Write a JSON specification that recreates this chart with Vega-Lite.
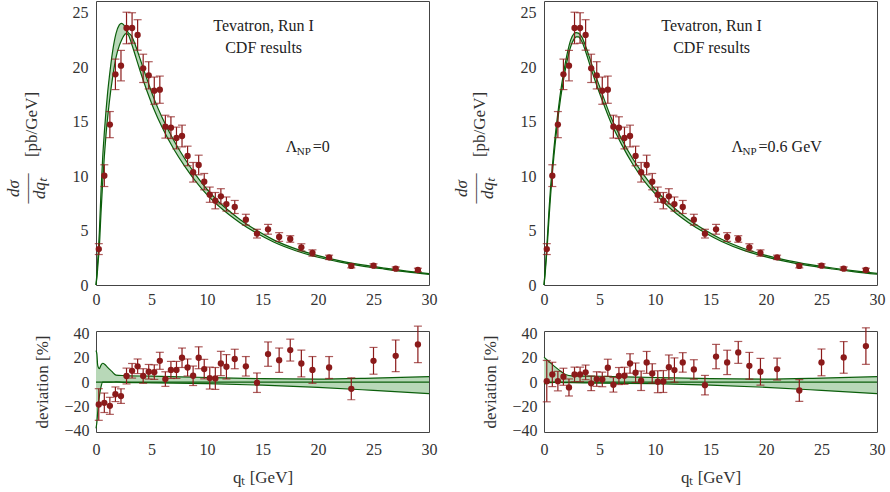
{
"$schema": "https://vega.github.io/schema/vega-lite/v6.json",
"padding": {"left": 3, "top": -7, "right": 5, "bottom": 2},
"background": "white",
"config": {
  "font": "Liberation Serif",
  "view": {"stroke": "#444", "strokeWidth": 1},
  "axis": {"grid": false, "domain": false, "labelFont": "Liberation Serif", "labelFontSize": 16, "labelColor": "#333", "titleFont": "Liberation Serif", "titleFontSize": 17, "titleFontWeight": "normal", "titleColor": "#333", "tickColor": "#444", "tickWidth": 1}
},
"datasets": {
  "pts": [
    {"x": 0.25, "v": 3.3, "e": 0.5, "dl": -18.4, "el": 13, "dr": 0.8, "er": 17},
    {"x": 0.75, "v": 10.05, "e": 1.0, "dl": -17, "el": 8, "dr": 6.3, "er": 10},
    {"x": 1.25, "v": 14.74, "e": 1.2, "dl": -19.5, "el": 7, "dr": 0.8, "er": 8},
    {"x": 1.75, "v": 19.36, "e": 1.4, "dl": -10, "el": 6, "dr": 4.4, "er": 7},
    {"x": 2.25, "v": 20.16, "e": 1.4, "dl": -11.5, "el": 6, "dr": -4.4, "er": 7},
    {"x": 2.75, "v": 23.62, "e": 1.45, "dl": 5, "el": 6.5, "dr": 6.3, "er": 6},
    {"x": 3.25, "v": 23.62, "e": 1.4, "dl": 9.3, "el": 6, "dr": 6.3, "er": 6},
    {"x": 3.75, "v": 22.98, "e": 1.4, "dl": 13, "el": 6, "dr": 8, "er": 6},
    {"x": 4.25, "v": 19.91, "e": 1.3, "dl": 5, "el": 6, "dr": -1, "er": 6},
    {"x": 4.75, "v": 19.27, "e": 1.25, "dl": 8.5, "el": 6, "dr": 2.5, "er": 6},
    {"x": 5.25, "v": 17.86, "e": 1.25, "dl": 8.2, "el": 6, "dr": 2.2, "er": 6},
    {"x": 5.75, "v": 17.95, "e": 1.25, "dl": 17.5, "el": 7, "dr": 11.8, "er": 7},
    {"x": 6.25, "v": 14.55, "e": 1.05, "dl": 2.5, "el": 6, "dr": -2.2, "er": 6},
    {"x": 6.75, "v": 14.46, "e": 1.0, "dl": 10, "el": 7, "dr": 5, "er": 7},
    {"x": 7.25, "v": 13.51, "e": 1.0, "dl": 10, "el": 7, "dr": 5.2, "er": 7},
    {"x": 7.75, "v": 13.69, "e": 1.0, "dl": 20, "el": 8, "dr": 15.3, "er": 8},
    {"x": 8.25, "v": 11.86, "e": 0.9, "dl": 12, "el": 7, "dr": 7.7, "er": 8},
    {"x": 8.75, "v": 10.36, "e": 0.9, "dl": 5.2, "el": 8, "dr": 1.1, "er": 8},
    {"x": 9.25, "v": 11.03, "e": 0.9, "dl": 20, "el": 9, "dr": 16.2, "er": 9},
    {"x": 9.75, "v": 9.5, "e": 0.75, "dl": 10.7, "el": 8, "dr": 7.1, "er": 8},
    {"x": 10.25, "v": 8.3, "e": 0.7, "dl": 3.3, "el": 9, "dr": 0.3, "er": 9},
    {"x": 10.75, "v": 7.75, "e": 0.75, "dl": 3, "el": 9, "dr": 0.5, "er": 9},
    {"x": 11.25, "v": 8.15, "e": 0.7, "dl": 15.3, "el": 10, "dr": 12.3, "er": 10},
    {"x": 11.75, "v": 7.44, "e": 0.65, "dl": 12.6, "el": 10, "dr": 9.9, "er": 10},
    {"x": 12.5, "v": 7.17, "e": 0.6, "dl": 19, "el": 8, "dr": 16.2, "er": 8},
    {"x": 13.5, "v": 6.0, "e": 0.5, "dl": 13, "el": 8, "dr": 10.4, "er": 8},
    {"x": 14.5, "v": 4.72, "e": 0.4, "dl": -0.5, "el": 8, "dr": -2.5, "er": 8},
    {"x": 15.5, "v": 5.12, "e": 0.45, "dl": 23, "el": 10, "dr": 21, "er": 10},
    {"x": 16.5, "v": 4.41, "e": 0.4, "dl": 18, "el": 10, "dr": 16.2, "er": 10},
    {"x": 17.5, "v": 4.23, "e": 0.3, "dl": 26.3, "el": 9, "dr": 24.4, "er": 9},
    {"x": 18.5, "v": 3.46, "e": 0.33, "dl": 15.3, "el": 11, "dr": 13.4, "er": 11},
    {"x": 19.5, "v": 2.94, "e": 0.29, "dl": 10, "el": 11, "dr": 8.5, "er": 11},
    {"x": 21, "v": 2.54, "e": 0.2, "dl": 12, "el": 9, "dr": 10.7, "er": 9},
    {"x": 23, "v": 1.75, "e": 0.17, "dl": -5.5, "el": 9, "dr": -6.9, "er": 9},
    {"x": 25, "v": 1.78, "e": 0.17, "dl": 17.5, "el": 11, "dr": 16.2, "er": 11},
    {"x": 27, "v": 1.5, "e": 0.16, "dl": 21.6, "el": 13, "dr": 20.3, "er": 13},
    {"x": 29, "v": 1.38, "e": 0.16, "dl": 31, "el": 15, "dr": 29.6, "er": 15}
  ],
  "bandTL": [
    {"x": 0, "lo": 0, "hi": 0}, {"x": 0.1, "lo": 0.9, "hi": 1.3}, {"x": 0.2, "lo": 2.2, "hi": 3.0},
    {"x": 0.3, "lo": 3.5, "hi": 4.8}, {"x": 0.45, "lo": 6.6, "hi": 8.6}, {"x": 0.6, "lo": 9.4, "hi": 11.7},
    {"x": 0.75, "lo": 11.8, "hi": 14.0}, {"x": 0.9, "lo": 13.8, "hi": 16.0}, {"x": 1.05, "lo": 15.4, "hi": 17.7},
    {"x": 1.2, "lo": 16.8, "hi": 19.1}, {"x": 1.5, "lo": 19.1, "hi": 21.5}, {"x": 1.8, "lo": 20.9, "hi": 23.1},
    {"x": 2.1, "lo": 22.0, "hi": 23.9}, {"x": 2.3, "lo": 22.5, "hi": 24.05}, {"x": 2.5, "lo": 22.9, "hi": 23.9},
    {"x": 2.7, "lo": 23.1, "hi": 23.55}, {"x": 2.9, "lo": 23.0, "hi": 23.2}, {"x": 3.2, "lo": 22.2, "hi": 22.9},
    {"x": 3.6, "lo": 20.9, "hi": 21.9}, {"x": 4.0, "lo": 19.6, "hi": 20.7}, {"x": 4.6, "lo": 17.8, "hi": 18.9},
    {"x": 5.2, "lo": 16.2, "hi": 17.2}, {"x": 6.0, "lo": 14.4, "hi": 15.3}, {"x": 7.0, "lo": 12.5, "hi": 13.3},
    {"x": 8.0, "lo": 10.9, "hi": 11.6}, {"x": 9.0, "lo": 9.5, "hi": 10.1}, {"x": 10.0, "lo": 8.3, "hi": 8.8},
    {"x": 11.0, "lo": 7.3, "hi": 7.7}, {"x": 12.0, "lo": 6.45, "hi": 6.8}, {"x": 13.0, "lo": 5.7, "hi": 6.0},
    {"x": 14.5, "lo": 4.75, "hi": 5.0}, {"x": 16.0, "lo": 3.95, "hi": 4.15}, {"x": 18.0, "lo": 3.15, "hi": 3.32},
    {"x": 20.0, "lo": 2.55, "hi": 2.7}, {"x": 22.0, "lo": 2.1, "hi": 2.22}, {"x": 24.0, "lo": 1.74, "hi": 1.85},
    {"x": 26.0, "lo": 1.46, "hi": 1.55}, {"x": 28.0, "lo": 1.2, "hi": 1.28}, {"x": 30.0, "lo": 0.98, "hi": 1.05}
  ],
  "bandTR": [
    {"x": 0, "lo": 0, "hi": 0}, {"x": 0.1, "lo": 1.0, "hi": 1.3}, {"x": 0.2, "lo": 2.3, "hi": 2.8},
    {"x": 0.3, "lo": 3.7, "hi": 4.3}, {"x": 0.45, "lo": 6.1, "hi": 6.9}, {"x": 0.6, "lo": 8.3, "hi": 9.1},
    {"x": 0.75, "lo": 10.2, "hi": 10.9}, {"x": 0.9, "lo": 11.9, "hi": 12.6}, {"x": 1.05, "lo": 13.4, "hi": 14.1},
    {"x": 1.2, "lo": 14.8, "hi": 15.4}, {"x": 1.5, "lo": 17.2, "hi": 17.8}, {"x": 1.8, "lo": 19.1, "hi": 19.7},
    {"x": 2.1, "lo": 20.7, "hi": 21.3}, {"x": 2.4, "lo": 21.9, "hi": 22.5}, {"x": 2.7, "lo": 22.6, "hi": 23.1},
    {"x": 2.9, "lo": 22.8, "hi": 23.2}, {"x": 3.1, "lo": 22.8, "hi": 23.15}, {"x": 3.4, "lo": 22.4, "hi": 22.8},
    {"x": 3.8, "lo": 21.3, "hi": 21.8}, {"x": 4.2, "lo": 20.0, "hi": 20.6}, {"x": 4.7, "lo": 18.5, "hi": 19.1},
    {"x": 5.2, "lo": 17.1, "hi": 17.7}, {"x": 6.0, "lo": 15.0, "hi": 15.5}, {"x": 7.0, "lo": 12.9, "hi": 13.4},
    {"x": 8.0, "lo": 11.1, "hi": 11.6}, {"x": 9.0, "lo": 9.6, "hi": 10.1}, {"x": 10.0, "lo": 8.4, "hi": 8.8},
    {"x": 11.0, "lo": 7.4, "hi": 7.75}, {"x": 12.0, "lo": 6.5, "hi": 6.85}, {"x": 13.0, "lo": 5.75, "hi": 6.05},
    {"x": 14.5, "lo": 4.8, "hi": 5.05}, {"x": 16.0, "lo": 4.0, "hi": 4.2}, {"x": 18.0, "lo": 3.18, "hi": 3.35},
    {"x": 20.0, "lo": 2.58, "hi": 2.72}, {"x": 22.0, "lo": 2.12, "hi": 2.24}, {"x": 24.0, "lo": 1.76, "hi": 1.87},
    {"x": 26.0, "lo": 1.47, "hi": 1.56}, {"x": 28.0, "lo": 1.21, "hi": 1.29}, {"x": 30.0, "lo": 0.99, "hi": 1.06}
  ],
  "bandBL": [
    {"x": 0, "lo": -38, "hi": 26}, {"x": 0.08, "lo": -33, "hi": 23}, {"x": 0.15, "lo": -25, "hi": 14},
    {"x": 0.3, "lo": -12, "hi": 11}, {"x": 0.45, "lo": -4, "hi": 14}, {"x": 0.6, "lo": 0, "hi": 15.5},
    {"x": 0.8, "lo": 0, "hi": 14.5}, {"x": 1.0, "lo": 0, "hi": 12.5}, {"x": 1.4, "lo": 0, "hi": 9},
    {"x": 1.8, "lo": 0.2, "hi": 5.8}, {"x": 2.5, "lo": -0.2, "hi": 5.4}, {"x": 5, "lo": -0.6, "hi": 4.9},
    {"x": 10, "lo": -1.3, "hi": 3.8}, {"x": 15, "lo": -2.5, "hi": 2.8}, {"x": 20, "lo": -4.3, "hi": 2.5},
    {"x": 25, "lo": -6.8, "hi": 3.3}, {"x": 30, "lo": -9.5, "hi": 4.5}
  ],
  "bandBR": [
    {"x": 0, "lo": -1.5, "hi": 20.5}, {"x": 0.5, "lo": -0.5, "hi": 16.5}, {"x": 1.0, "lo": -0.3, "hi": 12.5},
    {"x": 1.5, "lo": -0.3, "hi": 9}, {"x": 2.0, "lo": -0.4, "hi": 6}, {"x": 2.5, "lo": -0.4, "hi": 5.2},
    {"x": 5, "lo": -0.8, "hi": 4.8}, {"x": 10, "lo": -1.3, "hi": 3.8}, {"x": 15, "lo": -2.5, "hi": 2.8},
    {"x": 20, "lo": -4.3, "hi": 2.5}, {"x": 25, "lo": -6.8, "hi": 3.3}, {"x": 30, "lo": -9.5, "hi": 4.5}
  ]
},
"columns": 2,
"spacing": {"row": 46, "column": 115},
"bounds": "flush",
"concat": [
  {
    "width": 333, "height": 284,
    "resolve": {"axis": {"x": "independent", "y": "independent"}},
    "layer": [
      {"data": {"name": "bandTL"}, "mark": {"type": "area", "fill": "#b8d8b8", "interpolate": "monotone"},
       "encoding": {
         "x": {"field": "x", "type": "quantitative", "scale": {"domain": [0, 30], "nice": false, "zero": false},
               "axis": {"orient": "top", "values": [0,1,2,3,4,5,6,7,8,9,10,11,12,13,14,15,16,17,18,19,20,21,22,23,24,25,26,27,28,29,30], "labels": false, "title": null, "tickSize": 0, "encode": {"ticks": {"update": {"y2": {"signal": "datum.value % 5 === 0 ? 6 : 3"}}}}}},
         "y": {"field": "lo", "type": "quantitative", "scale": {"domain": [0, 26.1], "nice": false},
               "axis": {"orient": "right", "values": [0,1,2,3,4,5,6,7,8,9,10,11,12,13,14,15,16,17,18,19,20,21,22,23,24,25,26], "labels": false, "title": null, "tickSize": 0, "encode": {"ticks": {"update": {"x2": {"signal": "datum.value % 5 === 0 ? -6 : -3"}}}}}},
         "y2": {"field": "hi"}}},
      {"data": {"name": "bandTL"}, "mark": {"type": "line", "color": "#0b5e0b", "strokeWidth": 1.2, "interpolate": "monotone"},
       "encoding": {"x": {"field": "x", "type": "quantitative", "scale": {"domain": [0, 30], "nice": false, "zero": false}, "axis": null},
                    "y": {"field": "lo", "type": "quantitative", "scale": {"domain": [0, 26.1], "nice": false}, "axis": null}}},
      {"data": {"name": "bandTL"}, "mark": {"type": "line", "color": "#0b5e0b", "strokeWidth": 1.2, "interpolate": "monotone"},
       "encoding": {"x": {"field": "x", "type": "quantitative", "scale": {"domain": [0, 30], "nice": false, "zero": false}, "axis": null},
                    "y": {"field": "hi", "type": "quantitative", "scale": {"domain": [0, 26.1], "nice": false},
                          "axis": {"orient": "left", "labels": false, "ticks": false, "domain": false, "title": "[pb/GeV]", "titlePadding": 56, "titleY": 123}}}},
      {"data": {"name": "pts"}, "mark": {"type": "errorbar", "color": "#8b1a1a", "thickness": 1.2, "ticks": {"size": 8, "thickness": 1.2, "color": "#8b1a1a"}},
       "encoding": {"x": {"field": "x", "type": "quantitative", "scale": {"domain": [0, 30], "nice": false, "zero": false}, "axis": null},
                    "y": {"field": "v", "type": "quantitative", "scale": {"domain": [0, 26.1], "nice": false}, "axis": null},
                    "yError": {"field": "e"}}},
      {"data": {"name": "pts"}, "mark": {"type": "point", "filled": true, "size": 40, "color": "#8b1a1a", "opacity": 1},
       "encoding": {
         "x": {"field": "x", "type": "quantitative", "scale": {"domain": [0, 30], "nice": false, "zero": false},
               "axis": {"orient": "bottom", "values": [0,1,2,3,4,5,6,7,8,9,10,11,12,13,14,15,16,17,18,19,20,21,22,23,24,25,26,27,28,29,30], "labelExpr": "datum.value % 5 === 0 ? datum.label : ''", "labelOverlap": false, "labelFlush": false, "labelPadding": 6, "tickSize": 0, "title": null, "encode": {"ticks": {"update": {"y2": {"signal": "datum.value % 5 === 0 ? -6 : -3"}}}}}},
         "y": {"field": "v", "type": "quantitative", "scale": {"domain": [0, 26.1], "nice": false},
               "axis": {"orient": "left", "values": [0,1,2,3,4,5,6,7,8,9,10,11,12,13,14,15,16,17,18,19,20,21,22,23,24,25,26], "labelExpr": "datum.value % 5 === 0 ? datum.label : ''", "labelOverlap": false, "labelPadding": 8, "tickSize": 0, "titlePadding": 24, "titleLineHeight": 13, "titleFontStyle": "italic", "titleY": 187,
                        "title": ["dσ", "——", "dqₜ"],
                        "encode": {"ticks": {"update": {"x2": {"signal": "datum.value % 5 === 0 ? 6 : 3"}}}}}}}},
      {"data": {"values": [{}]}, "mark": {"type": "text", "font": "Liberation Serif", "fontSize": 16, "color": "#222", "align": "center", "baseline": "top", "lineHeight": 22},
       "encoding": {"x": {"datum": 15.1, "type": "quantitative", "scale": {"domain": [0, 30], "nice": false, "zero": false}, "axis": null},
                    "y": {"datum": 24.5, "type": "quantitative", "scale": {"domain": [0, 26.1], "nice": false}, "axis": null},
                    "text": {"value": ["Tevatron, Run I", "CDF results"]}}},
      {"data": {"values": [{}]}, "mark": {"type": "text", "font": "Liberation Serif", "fontSize": 16, "color": "#222", "align": "left", "baseline": "middle"},
       "encoding": {"x": {"datum": 17.1, "type": "quantitative", "scale": {"domain": [0, 30], "nice": false, "zero": false}, "axis": null},
                    "y": {"datum": 12.7, "type": "quantitative", "scale": {"domain": [0, 26.1], "nice": false}, "axis": null},
                    "text": {"value": "Λ"}}},
      {"data": {"values": [{}]}, "mark": {"type": "text", "font": "Liberation Serif", "fontSize": 11, "color": "#222", "align": "left", "baseline": "middle", "dx": 11, "dy": 5},
       "encoding": {"x": {"datum": 17.1, "type": "quantitative", "scale": {"domain": [0, 30], "nice": false, "zero": false}, "axis": null},
                    "y": {"datum": 12.7, "type": "quantitative", "scale": {"domain": [0, 26.1], "nice": false}, "axis": null},
                    "text": {"value": "NP"}}},
      {"data": {"values": [{}]}, "mark": {"type": "text", "font": "Liberation Serif", "fontSize": 16, "color": "#222", "align": "left", "baseline": "middle", "dx": 27},
       "encoding": {"x": {"datum": 17.1, "type": "quantitative", "scale": {"domain": [0, 30], "nice": false, "zero": false}, "axis": null},
                    "y": {"datum": 12.7, "type": "quantitative", "scale": {"domain": [0, 26.1], "nice": false}, "axis": null},
                    "text": {"value": "=0"}}}
    ]
  },
  {
    "width": 333, "height": 284,
    "resolve": {"axis": {"x": "independent", "y": "independent"}},
    "layer": [
      {"data": {"name": "bandTR"}, "mark": {"type": "area", "fill": "#b8d8b8", "interpolate": "monotone"},
       "encoding": {
         "x": {"field": "x", "type": "quantitative", "scale": {"domain": [0, 30], "nice": false, "zero": false},
               "axis": {"orient": "top", "values": [0,1,2,3,4,5,6,7,8,9,10,11,12,13,14,15,16,17,18,19,20,21,22,23,24,25,26,27,28,29,30], "labels": false, "title": null, "tickSize": 0, "encode": {"ticks": {"update": {"y2": {"signal": "datum.value % 5 === 0 ? 6 : 3"}}}}}},
         "y": {"field": "lo", "type": "quantitative", "scale": {"domain": [0, 26.1], "nice": false},
               "axis": {"orient": "right", "values": [0,1,2,3,4,5,6,7,8,9,10,11,12,13,14,15,16,17,18,19,20,21,22,23,24,25,26], "labels": false, "title": null, "tickSize": 0, "encode": {"ticks": {"update": {"x2": {"signal": "datum.value % 5 === 0 ? -6 : -3"}}}}}},
         "y2": {"field": "hi"}}},
      {"data": {"name": "bandTR"}, "mark": {"type": "line", "color": "#0b5e0b", "strokeWidth": 1.2, "interpolate": "monotone"},
       "encoding": {"x": {"field": "x", "type": "quantitative", "scale": {"domain": [0, 30], "nice": false, "zero": false}, "axis": null},
                    "y": {"field": "lo", "type": "quantitative", "scale": {"domain": [0, 26.1], "nice": false}, "axis": null}}},
      {"data": {"name": "bandTR"}, "mark": {"type": "line", "color": "#0b5e0b", "strokeWidth": 1.2, "interpolate": "monotone"},
       "encoding": {"x": {"field": "x", "type": "quantitative", "scale": {"domain": [0, 30], "nice": false, "zero": false}, "axis": null},
                    "y": {"field": "hi", "type": "quantitative", "scale": {"domain": [0, 26.1], "nice": false},
                          "axis": {"orient": "left", "labels": false, "ticks": false, "domain": false, "title": "[pb/GeV]", "titlePadding": 56, "titleY": 123}}}},
      {"data": {"name": "pts"}, "mark": {"type": "errorbar", "color": "#8b1a1a", "thickness": 1.2, "ticks": {"size": 8, "thickness": 1.2, "color": "#8b1a1a"}},
       "encoding": {"x": {"field": "x", "type": "quantitative", "scale": {"domain": [0, 30], "nice": false, "zero": false}, "axis": null},
                    "y": {"field": "v", "type": "quantitative", "scale": {"domain": [0, 26.1], "nice": false}, "axis": null},
                    "yError": {"field": "e"}}},
      {"data": {"name": "pts"}, "mark": {"type": "point", "filled": true, "size": 40, "color": "#8b1a1a", "opacity": 1},
       "encoding": {
         "x": {"field": "x", "type": "quantitative", "scale": {"domain": [0, 30], "nice": false, "zero": false},
               "axis": {"orient": "bottom", "values": [0,1,2,3,4,5,6,7,8,9,10,11,12,13,14,15,16,17,18,19,20,21,22,23,24,25,26,27,28,29,30], "labelExpr": "datum.value % 5 === 0 ? datum.label : ''", "labelOverlap": false, "labelFlush": false, "labelPadding": 6, "tickSize": 0, "title": null, "encode": {"ticks": {"update": {"y2": {"signal": "datum.value % 5 === 0 ? -6 : -3"}}}}}},
         "y": {"field": "v", "type": "quantitative", "scale": {"domain": [0, 26.1], "nice": false},
               "axis": {"orient": "left", "values": [0,1,2,3,4,5,6,7,8,9,10,11,12,13,14,15,16,17,18,19,20,21,22,23,24,25,26], "labelExpr": "datum.value % 5 === 0 ? datum.label : ''", "labelOverlap": false, "labelPadding": 8, "tickSize": 0, "titlePadding": 24, "titleLineHeight": 13, "titleFontStyle": "italic", "titleY": 187,
                        "title": ["dσ", "——", "dqₜ"],
                        "encode": {"ticks": {"update": {"x2": {"signal": "datum.value % 5 === 0 ? 6 : 3"}}}}}}}},
      {"data": {"values": [{}]}, "mark": {"type": "text", "font": "Liberation Serif", "fontSize": 16, "color": "#222", "align": "center", "baseline": "top", "lineHeight": 22},
       "encoding": {"x": {"datum": 15.1, "type": "quantitative", "scale": {"domain": [0, 30], "nice": false, "zero": false}, "axis": null},
                    "y": {"datum": 24.5, "type": "quantitative", "scale": {"domain": [0, 26.1], "nice": false}, "axis": null},
                    "text": {"value": ["Tevatron, Run I", "CDF results"]}}},
      {"data": {"values": [{}]}, "mark": {"type": "text", "font": "Liberation Serif", "fontSize": 16, "color": "#222", "align": "left", "baseline": "middle"},
       "encoding": {"x": {"datum": 16.9, "type": "quantitative", "scale": {"domain": [0, 30], "nice": false, "zero": false}, "axis": null},
                    "y": {"datum": 12.7, "type": "quantitative", "scale": {"domain": [0, 26.1], "nice": false}, "axis": null},
                    "text": {"value": "Λ"}}},
      {"data": {"values": [{}]}, "mark": {"type": "text", "font": "Liberation Serif", "fontSize": 11, "color": "#222", "align": "left", "baseline": "middle", "dx": 11, "dy": 5},
       "encoding": {"x": {"datum": 16.9, "type": "quantitative", "scale": {"domain": [0, 30], "nice": false, "zero": false}, "axis": null},
                    "y": {"datum": 12.7, "type": "quantitative", "scale": {"domain": [0, 26.1], "nice": false}, "axis": null},
                    "text": {"value": "NP"}}},
      {"data": {"values": [{}]}, "mark": {"type": "text", "font": "Liberation Serif", "fontSize": 16, "color": "#222", "align": "left", "baseline": "middle", "dx": 27},
       "encoding": {"x": {"datum": 16.9, "type": "quantitative", "scale": {"domain": [0, 30], "nice": false, "zero": false}, "axis": null},
                    "y": {"datum": 12.7, "type": "quantitative", "scale": {"domain": [0, 26.1], "nice": false}, "axis": null},
                    "text": {"value": "=0.6 GeV"}}}
    ]
  },
  {
    "width": 333, "height": 101,
    "resolve": {"axis": {"x": "independent", "y": "independent"}},
    "layer": [
      {"data": {"name": "bandBL"}, "mark": {"type": "area", "fill": "#b8d8b8", "interpolate": "monotone"},
       "encoding": {
         "x": {"field": "x", "type": "quantitative", "scale": {"domain": [0, 30], "nice": false, "zero": false},
               "axis": {"orient": "top", "values": [0,1,2,3,4,5,6,7,8,9,10,11,12,13,14,15,16,17,18,19,20,21,22,23,24,25,26,27,28,29,30], "labels": false, "title": null, "tickSize": 0, "encode": {"ticks": {"update": {"y2": {"signal": "datum.value % 5 === 0 ? 6 : 3"}}}}}},
         "y": {"field": "lo", "type": "quantitative", "scale": {"domain": [-41, 42], "nice": false, "zero": false},
               "axis": {"orient": "right", "values": [-40,-35,-30,-25,-20,-15,-10,-5,0,5,10,15,20,25,30,35,40], "labels": false, "title": null, "tickSize": 0, "encode": {"ticks": {"update": {"x2": {"signal": "datum.value % 20 === 0 ? -6 : -3"}}}}}},
         "y2": {"field": "hi"}}},
      {"data": {"name": "bandBL"}, "mark": {"type": "line", "color": "#0b5e0b", "strokeWidth": 1.2, "interpolate": "monotone"},
       "encoding": {"x": {"field": "x", "type": "quantitative", "scale": {"domain": [0, 30], "nice": false, "zero": false}, "axis": null},
                    "y": {"field": "lo", "type": "quantitative", "scale": {"domain": [-41, 42], "nice": false, "zero": false}, "axis": null}}},
      {"data": {"name": "bandBL"}, "mark": {"type": "line", "color": "#0b5e0b", "strokeWidth": 1.2, "interpolate": "monotone"},
       "encoding": {"x": {"field": "x", "type": "quantitative", "scale": {"domain": [0, 30], "nice": false, "zero": false}, "axis": null},
                    "y": {"field": "hi", "type": "quantitative", "scale": {"domain": [-41, 42], "nice": false, "zero": false}, "axis": null}}},
      {"data": {"values": [{}]}, "mark": {"type": "rule", "color": "#0b5e0b", "strokeWidth": 1.2},
       "encoding": {"y": {"datum": 0, "type": "quantitative", "scale": {"domain": [-41, 42], "nice": false, "zero": false}, "axis": null}}},
      {"data": {"name": "pts"}, "mark": {"type": "errorbar", "color": "#8b1a1a", "thickness": 1.2, "ticks": {"size": 8, "thickness": 1.2, "color": "#8b1a1a"}},
       "encoding": {"x": {"field": "x", "type": "quantitative", "scale": {"domain": [0, 30], "nice": false, "zero": false}, "axis": null},
                    "y": {"field": "dl", "type": "quantitative", "scale": {"domain": [-41, 42], "nice": false, "zero": false}, "axis": null},
                    "yError": {"field": "el"}}},
      {"data": {"name": "pts"}, "mark": {"type": "point", "filled": true, "size": 40, "color": "#8b1a1a", "opacity": 1},
       "encoding": {
         "x": {"field": "x", "type": "quantitative", "scale": {"domain": [0, 30], "nice": false, "zero": false},
               "axis": {"orient": "bottom", "values": [0,1,2,3,4,5,6,7,8,9,10,11,12,13,14,15,16,17,18,19,20,21,22,23,24,25,26,27,28,29,30], "labelExpr": "datum.value % 5 === 0 ? datum.label : ''", "labelOverlap": false, "labelFlush": false, "labelPadding": 9, "tickSize": 0, "title": "qₜ [GeV]", "titlePadding": 12, "encode": {"ticks": {"update": {"y2": {"signal": "datum.value % 5 === 0 ? -6 : -3"}}}}}},
         "y": {"field": "dl", "type": "quantitative", "scale": {"domain": [-41, 42], "nice": false, "zero": false},
               "axis": {"orient": "left", "values": [-40,-35,-30,-25,-20,-15,-10,-5,0,5,10,15,20,25,30,35,40], "labelExpr": "datum.value % 20 === 0 ? datum.label : ''", "labelOverlap": false, "labelPadding": 7, "tickSize": 0, "title": "deviation [%]", "titlePadding": 12,
                        "encode": {"ticks": {"update": {"x2": {"signal": "datum.value % 20 === 0 ? 6 : 3"}}}}}}}}
    ]
  },
  {
    "width": 333, "height": 101,
    "resolve": {"axis": {"x": "independent", "y": "independent"}},
    "layer": [
      {"data": {"name": "bandBR"}, "mark": {"type": "area", "fill": "#b8d8b8", "interpolate": "monotone"},
       "encoding": {
         "x": {"field": "x", "type": "quantitative", "scale": {"domain": [0, 30], "nice": false, "zero": false},
               "axis": {"orient": "top", "values": [0,1,2,3,4,5,6,7,8,9,10,11,12,13,14,15,16,17,18,19,20,21,22,23,24,25,26,27,28,29,30], "labels": false, "title": null, "tickSize": 0, "encode": {"ticks": {"update": {"y2": {"signal": "datum.value % 5 === 0 ? 6 : 3"}}}}}},
         "y": {"field": "lo", "type": "quantitative", "scale": {"domain": [-41, 42], "nice": false, "zero": false},
               "axis": {"orient": "right", "values": [-40,-35,-30,-25,-20,-15,-10,-5,0,5,10,15,20,25,30,35,40], "labels": false, "title": null, "tickSize": 0, "encode": {"ticks": {"update": {"x2": {"signal": "datum.value % 20 === 0 ? -6 : -3"}}}}}},
         "y2": {"field": "hi"}}},
      {"data": {"name": "bandBR"}, "mark": {"type": "line", "color": "#0b5e0b", "strokeWidth": 1.2, "interpolate": "monotone"},
       "encoding": {"x": {"field": "x", "type": "quantitative", "scale": {"domain": [0, 30], "nice": false, "zero": false}, "axis": null},
                    "y": {"field": "lo", "type": "quantitative", "scale": {"domain": [-41, 42], "nice": false, "zero": false}, "axis": null}}},
      {"data": {"name": "bandBR"}, "mark": {"type": "line", "color": "#0b5e0b", "strokeWidth": 1.2, "interpolate": "monotone"},
       "encoding": {"x": {"field": "x", "type": "quantitative", "scale": {"domain": [0, 30], "nice": false, "zero": false}, "axis": null},
                    "y": {"field": "hi", "type": "quantitative", "scale": {"domain": [-41, 42], "nice": false, "zero": false}, "axis": null}}},
      {"data": {"values": [{}]}, "mark": {"type": "rule", "color": "#0b5e0b", "strokeWidth": 1.2},
       "encoding": {"y": {"datum": 0, "type": "quantitative", "scale": {"domain": [-41, 42], "nice": false, "zero": false}, "axis": null}}},
      {"data": {"name": "pts"}, "mark": {"type": "errorbar", "color": "#8b1a1a", "thickness": 1.2, "ticks": {"size": 8, "thickness": 1.2, "color": "#8b1a1a"}},
       "encoding": {"x": {"field": "x", "type": "quantitative", "scale": {"domain": [0, 30], "nice": false, "zero": false}, "axis": null},
                    "y": {"field": "dr", "type": "quantitative", "scale": {"domain": [-41, 42], "nice": false, "zero": false}, "axis": null},
                    "yError": {"field": "er"}}},
      {"data": {"name": "pts"}, "mark": {"type": "point", "filled": true, "size": 40, "color": "#8b1a1a", "opacity": 1},
       "encoding": {
         "x": {"field": "x", "type": "quantitative", "scale": {"domain": [0, 30], "nice": false, "zero": false},
               "axis": {"orient": "bottom", "values": [0,1,2,3,4,5,6,7,8,9,10,11,12,13,14,15,16,17,18,19,20,21,22,23,24,25,26,27,28,29,30], "labelExpr": "datum.value % 5 === 0 ? datum.label : ''", "labelOverlap": false, "labelFlush": false, "labelPadding": 9, "tickSize": 0, "title": "qₜ [GeV]", "titlePadding": 12, "encode": {"ticks": {"update": {"y2": {"signal": "datum.value % 5 === 0 ? -6 : -3"}}}}}},
         "y": {"field": "dr", "type": "quantitative", "scale": {"domain": [-41, 42], "nice": false, "zero": false},
               "axis": {"orient": "left", "values": [-40,-35,-30,-25,-20,-15,-10,-5,0,5,10,15,20,25,30,35,40], "labelExpr": "datum.value % 20 === 0 ? datum.label : ''", "labelOverlap": false, "labelPadding": 7, "tickSize": 0, "title": "deviation [%]", "titlePadding": 12,
                        "encode": {"ticks": {"update": {"x2": {"signal": "datum.value % 20 === 0 ? 6 : 3"}}}}}}}}
    ]
  }
]
}
